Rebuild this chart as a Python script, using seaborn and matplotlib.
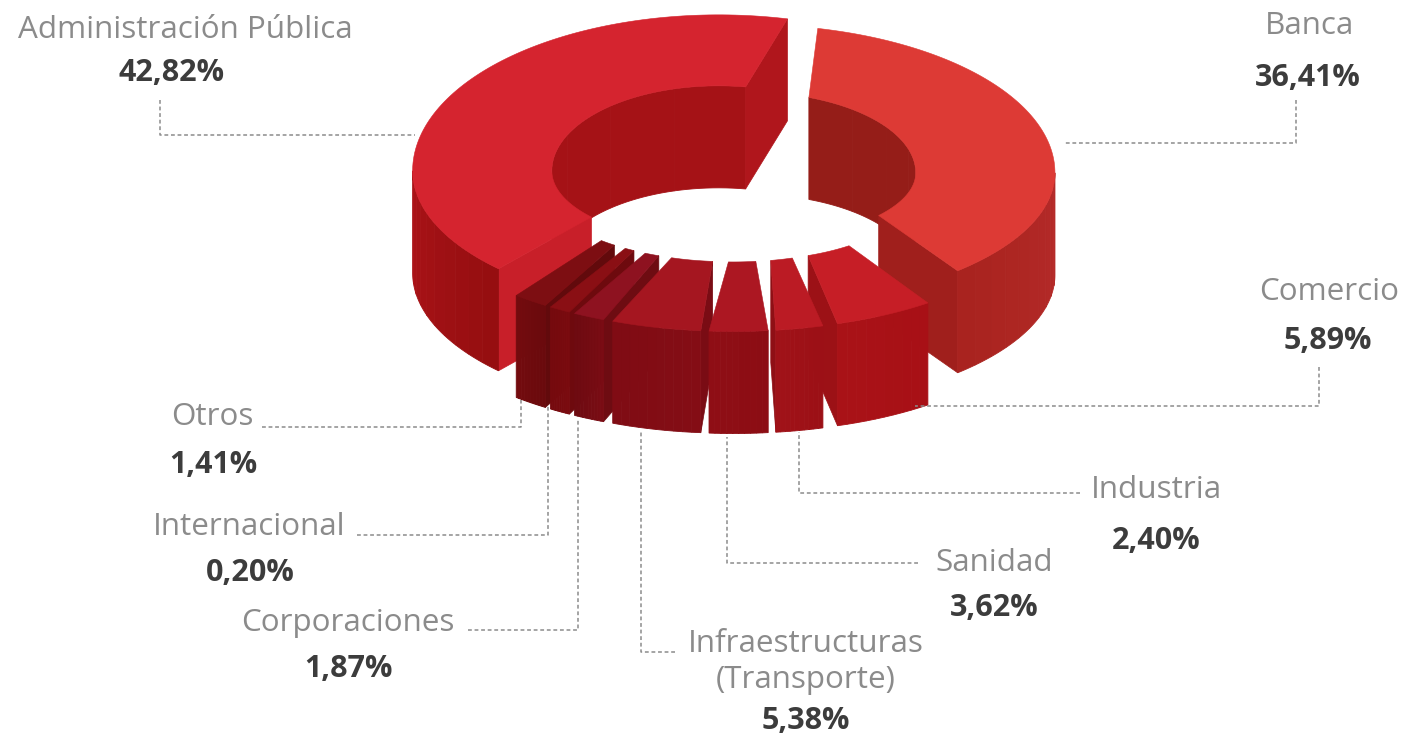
import numpy as np
import matplotlib
matplotlib.use("Agg")
import matplotlib.pyplot as plt
import seaborn as sns

# sectors, clockwise from Banca
labels = ['Banca', 'Comercio', 'Industria', 'Sanidad', 'Infraestructuras\n(Transporte)',
          'Corporaciones', 'Internacional', 'Otros', 'Administración Pública']
values = [36.41, 5.89, 2.40, 3.62, 5.38, 1.87, 0.20, 1.41, 42.82]

# the donut is not drawn to scale, these are the sweeps (degrees) as pictured
drawn_sweep = [124, 19, 9, 11.1, 17, 6, 4.1, 6.8, 147]
gap_after = [7, 1.2, 0.3, 0, 0.5, 0.5, 0.5, 6, 0]
explode = [0.054, 0.11, 0.11, 0.11, 0.11, 0.11, 0.11, 0.11, 0.054]
taper = [0.87, 0.85, 0.85, 0.85, 0.85, 0.85, 0.85, 0.85, 0.95]
inner_skew = [0, -2.7, -3.3, -2, -1.5, -1.5, 0.5, 2.5, 0]
squash = [0.95, 1, 1, 1, 1, 1, 1, 1, 1]

top_colors = ['#dd3a35', '#c61e26', '#bb1b24', '#ac1722', '#a51620', '#8e1220', '#8a0f14', '#7d0e12', '#d5242f']
wall_a = ['#b52b29', '#a81016', '#9c1016', '#8c0d14', '#840d15', '#7a0c14', '#7a0b0f', '#6a0a0d', '#960e10']
wall_b = ['#a9231f', '#a91217', '#a01218', '#8f0e15', '#800c14', '#6e0b11', '#760a0e', '#730b0e', '#ab1318']
cut_colors = ['#a01f1c', '#9c1116', '#8f0f15', '#860e15', '#7a0c14', '#6e0c12', '#6e0a0e', '#620a0c', '#b0161c']
inner_colors = ['#951d18', '#951d18', '#951d18', '#951d18', '#951d18', '#951d18', '#951d18', '#951d18', '#a51216']
cut_start_admin = '#c81f29'

# label positions in pixels of the 1404x735 picture
label_xy = [(1309, 26), (1329, 292), (1156, 490), (994, 563), (806, 662),
            (348, 623), (249, 527), (212, 417), (185, 30)]
value_xy = [(1308, 78), (1328, 341), (1156, 541), (994, 608), (806, 721),
            (349, 669), (250, 573), (213, 465), (172, 73)]
leaders = [
    ([1296, 1296, 1065], [100, 143, 143]),
    ([1319, 1319, 915], [367, 406, 406]),
    ([1080, 799, 799], [493, 493, 432]),
    ([918, 727, 727], [563, 563, 437]),
    ([675, 641, 641], [652, 652, 432]),
    ([468, 578, 578], [630, 630, 420]),
    ([357, 548, 548], [535, 535, 405]),
    ([262, 521, 521], [427, 427, 400]),
    ([160, 160, 415], [100, 135, 135]),
]

START = 13
CX, CY = 733, 175
RX, RY_FAR, RY_NEAR = 306, 156, 141
R_IN = 0.545
NEAR_IN = 0.93   # the hole is a bit flatter on the near side
DEPTH = 102


def project(theta, r, cx, cy, drop=0, sq=1):
    theta = np.radians(np.asarray(theta, dtype=float))
    c = np.cos(theta)
    near = RY_NEAR * NEAR_IN if r < 1 else RY_NEAR
    ry = np.where(c > 0, RY_FAR, near) * sq
    return cx + r * RX * np.sin(theta), cy - r * ry * c + drop


def band(ax, t0, t1, r, cx, cy, c0, c1, sq, steps=10):
    # vertical wall on an arc, shaded in strips like the original
    if t1 <= t0:
        return
    edges = np.linspace(t0, t1, steps + 1)
    pal = sns.blend_palette([c0, c1], n_colors=steps)
    for i in range(steps):
        t = np.linspace(edges[i], edges[i + 1], 12)
        x, y = project(t, r, cx, cy, sq=sq)
        x2, y2 = project(t[::-1], r, cx, cy, DEPTH, sq=sq)
        ax.fill(np.r_[x, x2], np.r_[y, y2], color=pal[i], lw=0.6)


sns.set_theme(style='white')
plt.rcParams['font.family'] = ['Open Sans', 'DejaVu Sans']

fig = plt.figure(figsize=(14.04, 7.35), dpi=100)
ax = fig.add_axes([0, 0, 1, 1])
ax.set_xlim(0, 1404)
ax.set_ylim(735, 0)
ax.axis('off')

# angles of every sector
starts = START + np.r_[0, np.cumsum(np.array(drawn_sweep) + np.array(gap_after))[:-1]]
ends = starts + np.array(drawn_sweep)
mids = (starts + ends) / 2

# far sectors first
order = np.argsort(-np.cos(np.radians(mids)))

for i in order:
    t0, t1, mid = starts[i], ends[i], mids[i]
    sq = squash[i]
    cx = CX + explode[i] * RX * np.sin(np.radians(mid))
    cos_m = np.cos(np.radians(mid))
    cy = CY - explode[i] * (RY_FAR if cos_m > 0 else RY_NEAR) * cos_m
    i0 = mid + (t0 - mid) * taper[i] + inner_skew[i]
    i1 = mid + (t1 - mid) * taper[i] + inner_skew[i]

    # inner wall, only the far part looks at us
    band(ax, max(i0, -90), min(i1, 90), R_IN, cx, cy, inner_colors[i], inner_colors[i], sq, steps=4)
    band(ax, max(i0, 270), min(i1, 450), R_IN, cx, cy, inner_colors[i], inner_colors[i], sq, steps=4)

    # cut faces, skipping the ones turned away
    xa, ya = project(t0, 1, cx, cy, sq=sq)
    xb, yb = project(i0, R_IN, cx, cy, sq=sq)
    if xb > xa:
        col = cut_start_admin if labels[i].startswith('Admin') else cut_colors[i]
        ax.fill([xa, xb, xb, xa], [ya, yb, yb + DEPTH, ya + DEPTH], color=col, lw=0.5)
    xa, ya = project(t1, 1, cx, cy, sq=sq)
    xb, yb = project(i1, R_IN, cx, cy, sq=sq)
    if xb < xa:
        ax.fill([xa, xb, xb, xa], [ya, yb, yb + DEPTH, ya + DEPTH], color=cut_colors[i], lw=0.5)

    # outer wall, only the near part
    band(ax, max(t0, 90), min(t1, 270), 1, cx, cy, wall_a[i], wall_b[i], sq)

    # top face
    t = np.linspace(t0, t1, 120)
    u = np.linspace(i1, i0, 120)
    xo, yo = project(t, 1, cx, cy, sq=sq)
    xi, yi = project(u, R_IN, cx, cy, sq=sq)
    ax.fill(np.r_[xo, xi], np.r_[yo, yi], color=top_colors[i], lw=0.4)

# leader lines
for xs, ys in leaders:
    sns.lineplot(x=xs, y=ys, sort=False, estimator=None, ax=ax, color='#8c8c8c',
                 lw=1.1, linestyle=(0, (2.5, 1.8)))

# texts
for name, val, (lx, ly), (vx, vy) in zip(labels, values, label_xy, value_xy):
    ax.text(lx, ly, name, ha='center', va='center', fontsize=22.6, color='#8b8b8b',
            linespacing=1.27)
    ax.text(vx, vy, f'{val:.2f}'.replace('.', ',') + '%', ha='center', va='center',
            fontsize=22, fontweight='bold', color='#3c3c3c')

fig.savefig('out.png', dpi=100, facecolor='white')
